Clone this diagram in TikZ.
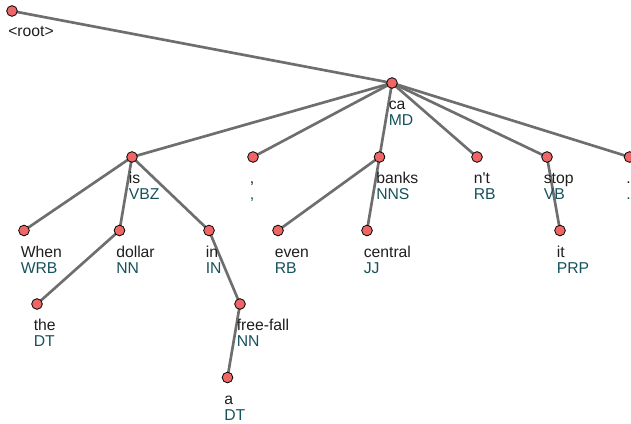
\documentclass[tikz,border=0pt]{standalone}
\usepackage{fontspec}
\setmainfont{Liberation Sans}[Ligatures=TeXOff]
\usetikzlibrary{backgrounds}

\definecolor{dotred}{RGB}{238,102,102}
\definecolor{edgegray}{RGB}{110,110,110}
\definecolor{tagteal}{RGB}{22,82,92}
\definecolor{wordink}{RGB}{30,30,30}

\begin{document}
\begin{tikzpicture}[
  x=0.75pt, y=-0.75pt,
  dot/.style={circle, draw=black, fill=dotred, line width=0.6pt, inner sep=0pt, minimum size=8pt},
  tok/.style={anchor=base west, align=left, inner sep=0pt, text=wordink, font=\fontsize{11.8}{12}\selectfont},
  edge/.style={draw=edgegray, line width=2pt}
]
\useasboundingbox (0,0) rectangle (631,424);

% token dots
\node[dot] (root) at (12,11) {};
\node[dot] (ca) at (392,83) {};
\node[dot] (is) at (132,157) {};
\node[dot] (comma) at (253,157) {};
\node[dot] (banks) at (379.5,157) {};
\node[dot] (nt) at (477,157) {};
\node[dot] (stop) at (547,157) {};
\node[dot] (period) at (629.5,157) {};
\node[dot] (when) at (24,230.5) {};
\node[dot] (dollar) at (119.5,230.5) {};
\node[dot] (in) at (209,230.5) {};
\node[dot] (even) at (278,230.5) {};
\node[dot] (central) at (367,230.5) {};
\node[dot] (it) at (560,230.5) {};
\node[dot] (the) at (37,304) {};
\node[dot] (freefall) at (240,304) {};
\node[dot] (a) at (227.5,377.5) {};

% word / tag labels (base sits on the tag line)
\node[tok] (root-l) at ([shift={(-4,26)}]root) {<root>};
\node[tok] (ca-l) at ([shift={(-3.5,42.5)}]ca) {ca\\\textcolor{tagteal}{MD}};
\node[tok] (is-l) at ([shift={(-3.5,42.5)}]is) {is\\\textcolor{tagteal}{VBZ}};
\node[tok] (comma-l) at ([shift={(-3.5,42.5)}]comma) {,\\\textcolor{tagteal}{,}};
\node[tok] (banks-l) at ([shift={(-3.5,42.5)}]banks) {banks\\\textcolor{tagteal}{NNS}};
\node[tok] (nt-l) at ([shift={(-3.5,42.5)}]nt) {n't\\\textcolor{tagteal}{RB}};
\node[tok] (stop-l) at ([shift={(-3.5,42.5)}]stop) {stop\\\textcolor{tagteal}{VB}};
\node[tok] (period-l) at ([shift={(-3.5,42.5)}]period) {.\\\textcolor{tagteal}{.}};
\node[tok] (when-l) at ([shift={(-3.5,42.5)}]when) {When\\\textcolor{tagteal}{WRB}};
\node[tok] (dollar-l) at ([shift={(-3.5,42.5)}]dollar) {dollar\\\textcolor{tagteal}{NN}};
\node[tok] (in-l) at ([shift={(-3.5,42.5)}]in) {in\\\textcolor{tagteal}{IN}};
\node[tok] (even-l) at ([shift={(-3.5,42.5)}]even) {even\\\textcolor{tagteal}{RB}};
\node[tok] (central-l) at ([shift={(-3.5,42.5)}]central) {central\\\textcolor{tagteal}{JJ}};
\node[tok] (it-l) at ([shift={(-3.5,42.5)}]it) {it\\\textcolor{tagteal}{PRP}};
\node[tok] (the-l) at ([shift={(-3.5,42.5)}]the) {the\\\textcolor{tagteal}{DT}};
\node[tok] (freefall-l) at ([shift={(-3.5,42.5)}]freefall) {free-fall\\\textcolor{tagteal}{NN}};
\node[tok] (a-l) at ([shift={(-3.5,42.5)}]a) {a\\\textcolor{tagteal}{DT}};

% dependency arcs, kept under the dots
\begin{pgfonlayer}{background}
\draw[edge] (root.center) -- (ca.center);
\draw[edge] (ca.center) -- (is.center);
\draw[edge] (ca.center) -- (comma.center);
\draw[edge] (ca.center) -- (banks.center);
\draw[edge] (ca.center) -- (nt.center);
\draw[edge] (ca.center) -- (stop.center);
\draw[edge] (ca.center) -- (period.center);
\draw[edge] (is.center) -- (when.center);
\draw[edge] (is.center) -- (dollar.center);
\draw[edge] (is.center) -- (in.center);
\draw[edge] (dollar.center) -- (the.center);
\draw[edge] (in.center) -- (freefall.center);
\draw[edge] (freefall.center) -- (a.center);
\draw[edge] (banks.center) -- (even.center);
\draw[edge] (banks.center) -- (central.center);
\draw[edge] (stop.center) -- (it.center);
\end{pgfonlayer}
\end{tikzpicture}
\end{document}
